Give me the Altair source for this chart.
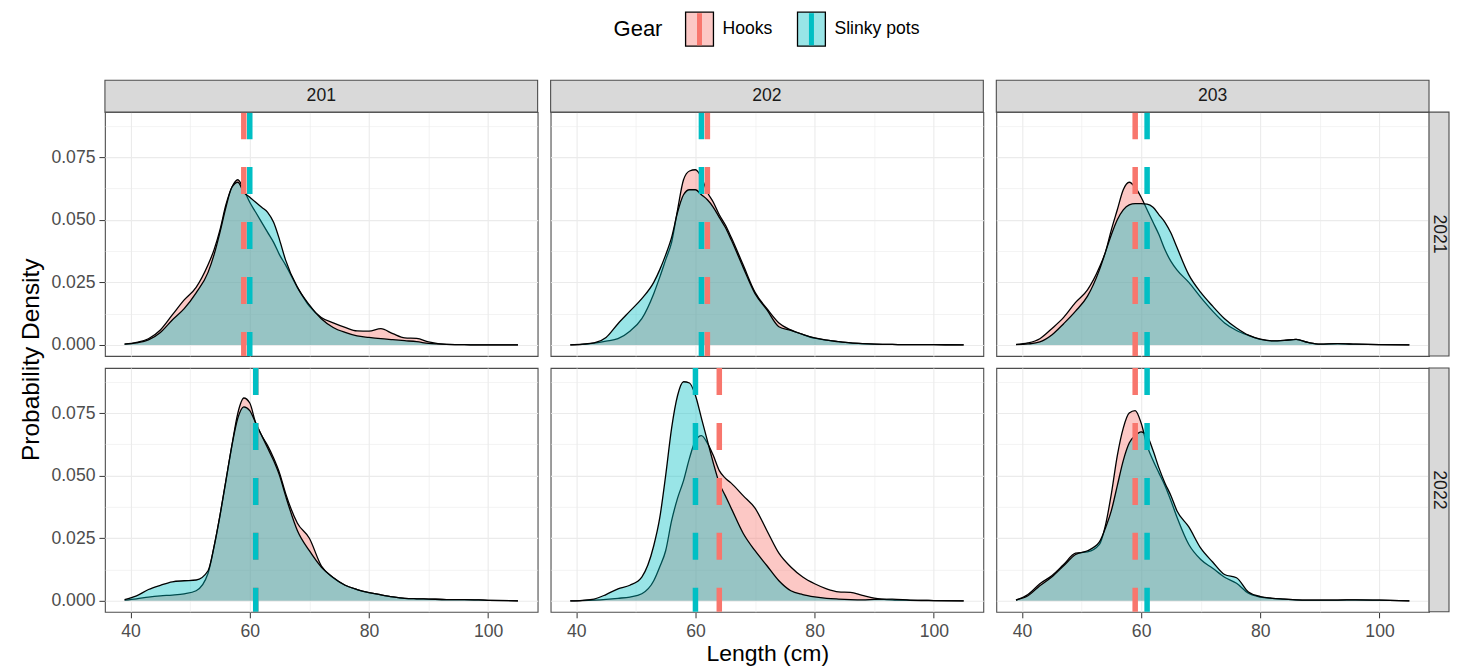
import altair as alt
import pandas as pd

AREAS = ["201", "202", "203"]
YEARS = ["2021", "2022"]
GEARS = ["Hooks", "Slinky pots"]
GEAR_COLORS = ["#F8766D", "#00BFC4"]

LENGTH = [39, 41, 43, 45, 47, 49, 51, 53, 54, 55, 56, 57, 58, 59, 60, 61, 62, 63, 64, 65,
          66, 68, 70, 72, 74, 76, 78, 80, 82, 84, 86, 88, 90, 93, 96, 100, 105]

hooks_201_2021 = [0.0003, 0.001, 0.0025, 0.006, 0.012, 0.018, 0.023, 0.032, 0.038, 0.046, 0.056, 0.063, 0.066, 0.062, 0.057, 0.053, 0.049, 0.045, 0.041, 0.036,
                  0.032, 0.023, 0.0155, 0.011, 0.0088, 0.007, 0.0056, 0.0055, 0.0065, 0.0045, 0.0028, 0.0026, 0.0012, 0.0002, 0.0001, 0.0, 0.0]
slinky_201_2021 = [0.0003, 0.0008, 0.002, 0.005, 0.01, 0.0145, 0.0208, 0.029, 0.036, 0.045, 0.055, 0.063, 0.065, 0.061, 0.059, 0.057, 0.055, 0.053, 0.049, 0.042,
                   0.034, 0.023, 0.016, 0.0105, 0.007, 0.005, 0.0036, 0.003, 0.0025, 0.0021, 0.0017, 0.0013, 0.0006, 0.0002, 0.0001, 0.0, 0.0]
hooks_202_2021 = [0.0, 0.0002, 0.0007, 0.0015, 0.0025, 0.0055, 0.0105, 0.0205, 0.027, 0.034, 0.041, 0.054, 0.066, 0.0695, 0.07, 0.067, 0.061, 0.057, 0.052, 0.048,
                  0.043, 0.032, 0.021, 0.0145, 0.0088, 0.006, 0.0042, 0.0027, 0.0019, 0.0013, 0.0008, 0.0005, 0.0003, 0.0002, 0.0001, 0.0001, 0.0]
slinky_202_2021 = [0.0, 0.0003, 0.0008, 0.003, 0.0085, 0.0135, 0.0185, 0.025, 0.03, 0.036, 0.043, 0.053, 0.06, 0.062, 0.062, 0.06, 0.058, 0.055, 0.051, 0.047,
                   0.042, 0.031, 0.0205, 0.014, 0.0073, 0.0058, 0.0042, 0.0028, 0.0019, 0.0013, 0.0008, 0.0005, 0.0003, 0.0002, 0.0001, 0.0001, 0.0]
hooks_203_2021 = [0.0002, 0.0008, 0.0025, 0.0065, 0.011, 0.017, 0.022, 0.031, 0.037, 0.046, 0.054, 0.062, 0.065, 0.063, 0.059, 0.054, 0.049, 0.044, 0.038, 0.0334,
                  0.03, 0.025, 0.019, 0.0135, 0.0088, 0.0058, 0.0038, 0.0022, 0.0016, 0.0018, 0.0022, 0.001, 0.0003, 0.0005, 0.0003, 0.0001, 0.0]
slinky_203_2021 = [0.0001, 0.0004, 0.0012, 0.004, 0.0085, 0.0135, 0.0195, 0.03, 0.037, 0.044, 0.05, 0.054, 0.056, 0.0565, 0.0565, 0.0563, 0.055, 0.052, 0.049, 0.0447,
                   0.039, 0.028, 0.021, 0.0155, 0.0105, 0.0068, 0.0039, 0.0023, 0.0016, 0.0018, 0.0022, 0.001, 0.0003, 0.0005, 0.0003, 0.0001, 0.0]
hooks_201_2022 = [0.0003, 0.0008, 0.0015, 0.002, 0.0023, 0.0028, 0.004, 0.011, 0.0215, 0.034, 0.048, 0.062, 0.075, 0.081, 0.079, 0.071, 0.066, 0.062, 0.057, 0.051,
                  0.043, 0.031, 0.025, 0.014, 0.0092, 0.0062, 0.0045, 0.0033, 0.0024, 0.0016, 0.001, 0.0008, 0.0007, 0.0005, 0.0005, 0.0002, 0.0]
slinky_201_2022 = [0.0005, 0.002, 0.0045, 0.0062, 0.0076, 0.008, 0.0083, 0.012, 0.0215, 0.034, 0.048, 0.062, 0.073, 0.0775, 0.076, 0.071, 0.066, 0.061, 0.056, 0.05,
                   0.042, 0.028, 0.02, 0.0135, 0.0093, 0.0062, 0.0045, 0.0033, 0.0024, 0.0016, 0.001, 0.0008, 0.0007, 0.0005, 0.0005, 0.0002, 0.0]
hooks_202_2022 = [0.0, 0.0001, 0.0003, 0.0006, 0.001, 0.0015, 0.0028, 0.008, 0.0135, 0.02, 0.032, 0.041, 0.048, 0.057, 0.064, 0.066, 0.063, 0.058, 0.052, 0.049,
                  0.047, 0.042, 0.037, 0.028, 0.019, 0.0135, 0.0095, 0.0068, 0.0048, 0.0036, 0.0034, 0.0022, 0.0011, 0.0004, 0.0002, 0.0001, 0.0]
slinky_202_2022 = [0.0, 0.0002, 0.0007, 0.0025, 0.0048, 0.0062, 0.0095, 0.022, 0.033, 0.05, 0.069, 0.082, 0.0875, 0.087, 0.082, 0.073, 0.064, 0.055, 0.047, 0.042,
                   0.037, 0.027, 0.02, 0.014, 0.008, 0.004, 0.0025, 0.0016, 0.001, 0.0007, 0.0005, 0.0004, 0.0006, 0.0007, 0.0003, 0.0001, 0.0]
hooks_203_2022 = [0.0003, 0.0025, 0.0068, 0.01, 0.0145, 0.019, 0.0195, 0.0225, 0.03, 0.0427, 0.058, 0.069, 0.075, 0.076, 0.071, 0.062, 0.056, 0.051, 0.046, 0.04,
                  0.0335, 0.0225, 0.0165, 0.013, 0.0094, 0.007, 0.003, 0.0015, 0.001, 0.0007, 0.0004, 0.0003, 0.0003, 0.0003, 0.0004, 0.0003, 0.0]
slinky_203_2022 = [0.0003, 0.002, 0.006, 0.0095, 0.014, 0.0185, 0.02, 0.0235, 0.029, 0.036, 0.046, 0.056, 0.063, 0.066, 0.0675, 0.066, 0.06, 0.053, 0.047, 0.042,
                   0.036, 0.0295, 0.021, 0.0155, 0.0105, 0.0092, 0.0035, 0.0017, 0.001, 0.0007, 0.0004, 0.0003, 0.0003, 0.0003, 0.0004, 0.0003, 0.0]

hooks_mean_2021 = [59, 62, 59]
slinky_mean_2021 = [60, 61, 61]
hooks_mean_2022 = [61, 64, 59]
slinky_mean_2022 = [61, 60, 61]

X_TICKS = [40, 50, 60, 70, 80, 90, 100]
Y_TICKS = [0, 0.0125, 0.025, 0.0375, 0.05, 0.0625, 0.075, 0.0875]
X_DOMAIN = [35.7, 108.3]
Y_DOMAIN = [-0.0044, 0.093]

DENSITY = {
    ("201", "2021"): (hooks_201_2021, slinky_201_2021),
    ("202", "2021"): (hooks_202_2021, slinky_202_2021),
    ("203", "2021"): (hooks_203_2021, slinky_203_2021),
    ("201", "2022"): (hooks_201_2022, slinky_201_2022),
    ("202", "2022"): (hooks_202_2022, slinky_202_2022),
    ("203", "2022"): (hooks_203_2022, slinky_203_2022),
}
MEANS = {"2021": (hooks_mean_2021, slinky_mean_2021), "2022": (hooks_mean_2022, slinky_mean_2022)}

rows = []
for (area, year), series in DENSITY.items():
    for gear, vals in zip(GEARS, series):
        for L, d in zip(LENGTH, vals):
            rows.append({"kind": "dens", "Area": area, "Year": year, "Gear": gear, "Length": L, "Density": d, "label": ""})
for gi, gear in enumerate(GEARS):
    for year in YEARS:
        for area, m in zip(AREAS, MEANS[year][gi]):
            rows.append({"kind": "mean", "Area": area, "Year": year, "Gear": gear, "Length": m, "Density": None, "label": ""})
for area in AREAS:
    rows.append({"kind": "stripT", "Area": area, "Year": YEARS[0], "Gear": "", "Length": None, "Density": None, "label": area})
for year in YEARS:
    rows.append({"kind": "stripR", "Area": AREAS[-1], "Year": year, "Gear": "", "Length": None, "Density": None, "label": year})
df = pd.DataFrame(rows)

W, H = 433, 244
STRIP_H = 32
STRIP_W = 20
GRID = "#EBEBEB"
BORDER = "#4D4D4D"
STRIP_FILL = "#D9D9D9"
FONT = "Liberation Sans"
SMALL = 17.6

x_minor = "datum.value % 20 != 0"
y_minor = "abs(datum.value * 40 - round(datum.value * 40)) > 0.001"

x_axis = alt.Axis(values=X_TICKS, title=None, labelExpr=f"({x_minor}) ? '' : datum.label",
                  tickOpacity={"condition": {"test": x_minor, "value": 0}, "value": 1},
                  gridWidth={"condition": {"test": x_minor, "value": 0.6}, "value": 1.1},
                  labelFlush=False, labelOverlap=False, labelPadding=5)
y_axis = alt.Axis(values=Y_TICKS, title=None, labelExpr=f"({y_minor}) ? '' : format(datum.value, '.3f')",
                  tickOpacity={"condition": {"test": y_minor, "value": 0}, "value": 1},
                  gridWidth={"condition": {"test": y_minor, "value": 0.6}, "value": 1.1},
                  labelOverlap=False)

X = alt.X("Length:Q", scale=alt.Scale(domain=X_DOMAIN, nice=False, zero=False), axis=x_axis)
Y = alt.Y("Density:Q", stack=None, scale=alt.Scale(domain=Y_DOMAIN, nice=False, zero=False), axis=y_axis)
fill_scale = alt.Scale(domain=GEARS, range=GEAR_COLORS)


def dens_layers(gear):
    flt = f"datum.kind == 'dens' && datum.Gear == '{gear}'"
    area = alt.Chart().mark_area(fillOpacity=0.4, interpolate="monotone").encode(
        x=X, y=Y, fill=alt.Fill("Gear:N", scale=fill_scale, legend=None)
    ).transform_filter(flt)
    line = alt.Chart().mark_line(color="black", strokeWidth=1.3, interpolate="monotone").encode(
        x=X, y=Y
    ).transform_filter(flt)
    return [area, line]


rules = alt.Chart().mark_rule(strokeWidth=5.5, strokeDash=[27, 28]).encode(
    x=X, color=alt.Color("Gear:N", scale=fill_scale, legend=None)
).transform_filter("datum.kind == 'mean'")

strip_top_rect = alt.Chart().mark_rect(fill=STRIP_FILL, stroke=BORDER, strokeWidth=1.1).encode(
    x=alt.value(0), x2=alt.value(W), y=alt.value(-STRIP_H), y2=alt.value(0)
).transform_filter("datum.kind == 'stripT'")
strip_top_text = alt.Chart().mark_text(fontSize=SMALL, color="#1A1A1A", align="center", baseline="middle").encode(
    x=alt.value(W / 2), y=alt.value(-STRIP_H / 2), text="label:N"
).transform_filter("datum.kind == 'stripT'")
strip_right_rect = alt.Chart().mark_rect(fill=STRIP_FILL, stroke=BORDER, strokeWidth=1.1).encode(
    x=alt.value(W), x2=alt.value(W + STRIP_W), y=alt.value(0), y2=alt.value(H)
).transform_filter("datum.kind == 'stripR'")
strip_right_text = alt.Chart().mark_text(fontSize=SMALL, color="#1A1A1A", align="center", baseline="middle", angle=90).encode(
    x=alt.value(W + STRIP_W / 2), y=alt.value(H / 2), text="label:N"
).transform_filter("datum.kind == 'stripR'")

panel = alt.layer(
    *dens_layers("Hooks"), *dens_layers("Slinky pots"), rules,
    strip_top_rect, strip_top_text, strip_right_rect, strip_right_text
).properties(width=W, height=H)

facet = panel.facet(
    data=df,
    column=alt.Column("Area:N", header=None, sort=AREAS),
    row=alt.Row("Year:N", header=None, sort=YEARS),
    spacing={"row": 12, "column": 13},
    bounds="flush",
).properties(
    title=alt.TitleParams("Probability Density", orient="left", anchor="middle", fontSize=24.5, offset=6)
)

# legend
leg_df = pd.DataFrame({"Gear": GEARS})
LEG_X = [595, 707]
leg_x = alt.X("Gear:N", scale=alt.Scale(type="point", domain=GEARS, range=LEG_X, padding=0), axis=None)
leg_boxes = alt.Chart(leg_df).mark_point(
    shape="M-0.82,-1H0.82V1H-0.82Z", size=1156, filled=True, fillOpacity=0.4, opacity=1,
    stroke="black", strokeWidth=1.3
).encode(x=leg_x, y=alt.value(17), fill=alt.Fill("Gear:N", scale=fill_scale, legend=None))
leg_rules = alt.Chart(leg_df).mark_rule(strokeWidth=5).encode(
    x=leg_x, y=alt.value(1), y2=alt.value(33), color=alt.Color("Gear:N", scale=fill_scale, legend=None)
)
leg_labels = alt.Chart(leg_df).mark_text(align="left", baseline="middle", dx=23, fontSize=SMALL, color="black").encode(
    x=leg_x, y=alt.value(17), text="Gear:N"
)
leg_title = alt.Chart(pd.DataFrame({"t": ["Gear"]})).mark_text(align="left", baseline="middle", fontSize=22, color="black").encode(
    x=alt.value(509), y=alt.value(17), text="t:N"
)
legend = alt.layer(leg_boxes, leg_rules, leg_labels, leg_title).properties(
    width=1000, height=36, view=alt.ViewBackground(stroke="transparent")
)

chart = alt.vconcat(legend, facet, spacing=28).properties(
    title=alt.TitleParams("Length (cm)", orient="bottom", anchor="middle", fontSize=23, dx=33, offset=3),
    padding={"left": 11, "top": 0, "right": 0, "bottom": 0},
).configure(font=FONT).configure_view(
    stroke=BORDER, strokeWidth=1.1
).configure_axis(
    labelFont=FONT, labelFontSize=SMALL, labelColor="#4D4D4D", tickColor="#333333", tickSize=6,
    domain=False, gridColor=GRID, labelPadding=4
).configure_title(font=FONT, fontWeight="normal", color="black")

chart.save("out.html", embed_options={"renderer": "svg", "actions": False})
